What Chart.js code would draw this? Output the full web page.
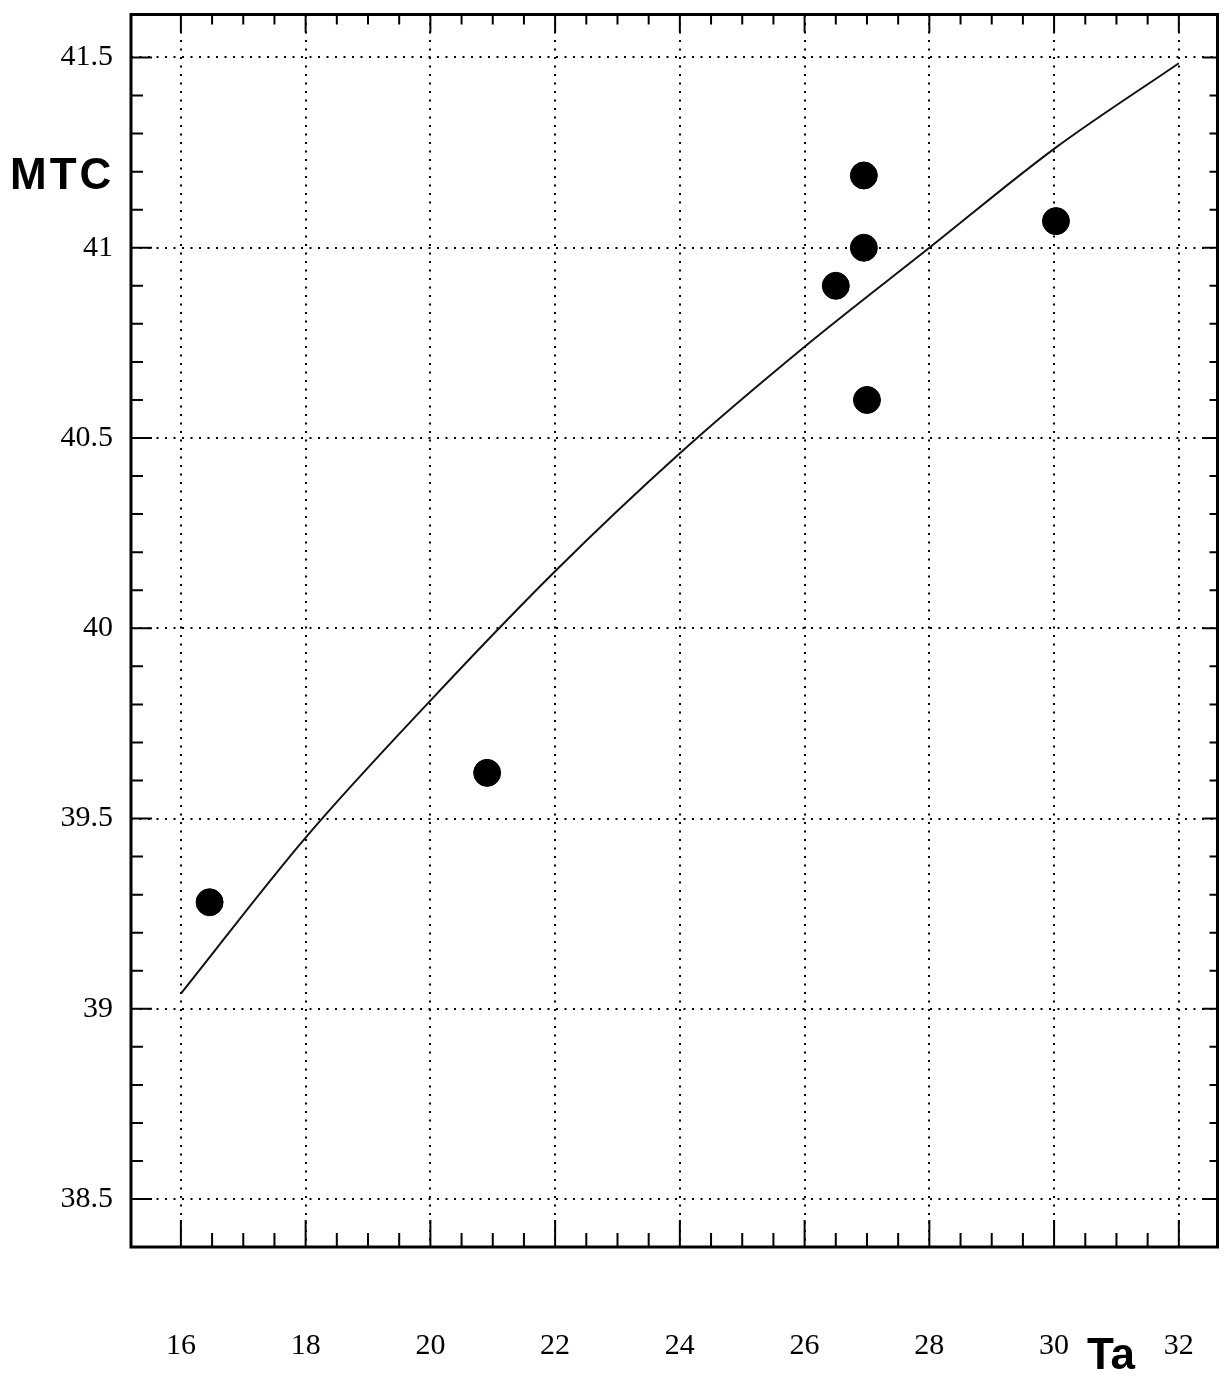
<!DOCTYPE html>
<html>
<head>
<meta charset="utf-8">
<script src="https://cdn.jsdelivr.net/npm/chart.js@4.4.0/dist/chart.umd.min.js"></script>
<style>
    html, body { margin: 0; padding: 0; background: #fff; }
</style>
</head>
<body>
<canvas id="mtcChart" width="1232" height="1379"></canvas>
<script>
// tick labels
const xTicks = [16, 18, 20, 22, 24, 26, 28, 30, 32];
const yTicks = [38.5, 39, 39.5, 40, 40.5, 41, 41.5];

// measured points (Ta, MTC)
const taValues = [16.46, 20.91, 26.5, 26.95, 26.95, 27.0, 30.03];
const mtcValues = [39.28, 39.62, 40.9, 41.19, 41.0, 40.6, 41.07];

// fitted curve
const fitTa = [16, 18, 20, 22, 24, 26, 28, 30, 32];
const fitMtc = [39.04, 39.45, 39.81, 40.15, 40.46, 40.74, 41.0, 41.26, 41.485];

renderChart();

function noPad(s) {
    s.paddingTop = 0;
    s.paddingBottom = 0;
    s.paddingLeft = 0;
    s.paddingRight = 0;
}

function renderChart() {
    // frame, inward ticks and the two bold axis names
    const framePlugin = {
        id: 'frame',
        afterDraw(chart) {
            const ctx = chart.ctx;
            const a = chart.chartArea;
            const x = chart.scales.x;
            const y = chart.scales.y;
            ctx.save();
            ctx.strokeStyle = '#000';
            ctx.lineWidth = 3;
            ctx.strokeRect(a.left, a.top, a.right - a.left, a.bottom - a.top);

            ctx.lineWidth = 2;
            ctx.beginPath();
            // x ticks every 0.5, long at labelled values
            for (let i = 0; i <= 32; i++) {
                const v = xTicks[0] + i * 0.5;
                const px = x.getPixelForValue(v);
                const major = i % 4 === 0;
                ctx.moveTo(px, a.top);
                ctx.lineTo(px, a.top + (major ? 18 : 10));
                ctx.moveTo(px, a.bottom);
                ctx.lineTo(px, a.bottom - (major ? 27 : 14));
            }
            // y ticks every 0.1
            for (let i = 0; i <= 30; i++) {
                const v = yTicks[0] + i * 0.1;
                const py = y.getPixelForValue(v);
                const major = i % 5 === 0;
                ctx.moveTo(a.left, py);
                ctx.lineTo(a.left + (major ? 21 : 12), py);
                ctx.moveTo(a.right, py);
                ctx.lineTo(a.right - (major ? 15 : 8), py);
            }
            ctx.stroke();

            ctx.fillStyle = '#000';
            ctx.font = 'bold 44px "Liberation Sans", Arial, sans-serif';
            ctx.letterSpacing = '3px';
            ctx.textBaseline = 'middle';
            ctx.textAlign = 'left';
            ctx.fillText('MTC', 10, 177);
            ctx.textAlign = 'center';
            ctx.letterSpacing = '0px';
            ctx.fillText('Ta', 1111, 1357);
            ctx.restore();
        }
    };

    const tickFont = { family: '"Liberation Serif", "DejaVu Serif", serif', size: 30 };

    const config = {
        type: 'scatter',
        data: {
            datasets: [{
                label: 'MTC',
                data: taValues.map((t, i) => ({ x: t, y: mtcValues[i] })),
                backgroundColor: '#000',
                borderColor: '#000',
                pointRadius: 13.5,
                pointHoverRadius: 13.5,
                order: 1
            }, {
                label: 'fit',
                data: fitTa.map((t, i) => ({ x: t, y: fitMtc[i] })),
                showLine: true,
                borderColor: '#111',
                borderWidth: 2,
                pointRadius: 0,
                cubicInterpolationMode: 'monotone',
                order: 2
            }]
        },
        options: {
            responsive: false,
            animation: false,
            layout: {
                padding: { left: 10, top: 10, right: 8, bottom: 0 }
            },
            plugins: {
                legend: { display: false },
                tooltip: { enabled: false }
            },
            scales: {
                x: {
                    type: 'linear',
                    min: 15.2,
                    max: 32.62,
                    afterBuildTicks: s => { s.ticks = xTicks.map(v => ({ value: v })); },
                    afterFit: s => { s.height = 132; noPad(s); },
                    grid: { color: '#000', lineWidth: 2, drawTicks: false },
                    border: { display: false, dash: [2, 6.5] },
                    ticks: {
                        padding: 81,
                        color: '#000',
                        font: tickFont,
                        maxRotation: 0,
                        autoSkip: false,
                        callback: v => String(v)
                    }
                },
                y: {
                    type: 'linear',
                    min: 38.374,
                    max: 41.613,
                    afterBuildTicks: s => { s.ticks = yTicks.map(v => ({ value: v })); },
                    afterFit: s => { s.width = 121; noPad(s); },
                    grid: { color: '#000', lineWidth: 2, drawTicks: false },
                    border: { display: false, dash: [2, 6.5] },
                    ticks: {
                        padding: 18,
                        color: '#000',
                        font: tickFont,
                        autoSkip: false,
                        callback: v => String(v)
                    }
                }
            }
        },
        plugins: [framePlugin]
    };

    new Chart(document.getElementById('mtcChart'), config);
}
</script>
</body>
</html>
